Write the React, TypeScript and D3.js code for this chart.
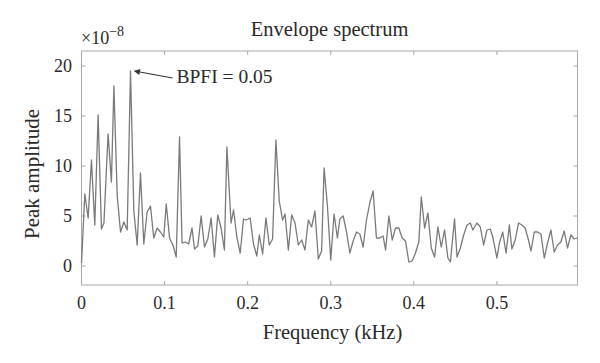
// Envelope spectrum: peak amplitude vs frequency, with BPFI annotation
import * as d3 from 'd3'

// frequency (kHz)
const freq = [
  0.000, 0.004, 0.008, 0.012, 0.016, 0.020, 0.024, 0.027, 0.032, 0.036,
  0.039, 0.043, 0.047, 0.051, 0.055, 0.059, 0.063, 0.067, 0.071, 0.075,
  0.079, 0.083, 0.087, 0.091, 0.095, 0.099, 0.102, 0.106, 0.110, 0.114,
  0.118, 0.121, 0.125, 0.129, 0.133, 0.136, 0.140, 0.144, 0.148, 0.152,
  0.156, 0.160, 0.164, 0.168, 0.172, 0.175, 0.180, 0.183, 0.187, 0.191,
  0.195, 0.198, 0.203, 0.207, 0.211, 0.214, 0.218, 0.222, 0.226, 0.230,
  0.234, 0.238, 0.242, 0.245, 0.249, 0.253, 0.257, 0.261, 0.265, 0.269,
  0.273, 0.277, 0.281, 0.285, 0.289, 0.292, 0.296, 0.300, 0.304, 0.308,
  0.311, 0.315, 0.319, 0.323, 0.327, 0.331, 0.335, 0.339, 0.343, 0.347,
  0.351, 0.355, 0.359, 0.363, 0.366, 0.370, 0.374, 0.378, 0.382, 0.386,
  0.390, 0.394, 0.398, 0.402, 0.406, 0.409, 0.413, 0.417, 0.421, 0.425,
  0.429, 0.433, 0.437, 0.441, 0.444, 0.449, 0.452, 0.456, 0.460, 0.464,
  0.468, 0.471, 0.476, 0.480, 0.484, 0.488, 0.492, 0.495, 0.500, 0.503,
  0.507, 0.511, 0.515, 0.518, 0.522, 0.526, 0.530, 0.534, 0.538, 0.541,
  0.545, 0.549, 0.553, 0.557, 0.561, 0.565, 0.569, 0.573, 0.577, 0.581,
  0.585, 0.589, 0.593, 0.597,
]

// peak amplitude (x 1e-8)
const amplitude = [
  0.3, 7.2, 4.8, 10.6, 4.1, 15.1, 3.7, 4.3, 13.2, 8.4,
  18.0, 7.0, 3.4, 4.4, 3.6, 19.5, 5.5, 2.1, 9.3, 2.2,
  5.4, 6.0, 2.8, 3.8, 3.4, 2.9, 6.2, 2.8, 2.1, 0.9,
  12.9, 2.3, 2.4, 2.2, 3.8, 1.7, 2.0, 5.0, 1.9, 2.7,
  4.8, 0.9, 5.1, 3.8, 1.6, 11.9, 4.3, 5.6, 2.9, 1.3,
  4.7, 4.6, 4.8, 2.2, 1.0, 3.1, 1.2, 4.8, 2.1, 2.7,
  12.6, 6.5, 4.6, 5.2, 1.6, 5.1, 4.3, 2.1, 2.6, 1.6,
  4.6, 3.9, 5.5, 0.7, 1.5, 9.8, 6.0, 0.6, 5.2, 2.8,
  4.7, 5.0, 3.4, 1.3, 2.5, 3.4, 3.2, 1.9, 4.6, 6.3,
  7.5, 2.8, 2.8, 3.0, 1.6, 5.0, 2.6, 3.8, 3.8, 2.8,
  2.5, 0.4, 0.5, 1.3, 2.4, 6.9, 3.8, 5.3, 1.8, 0.9,
  3.9, 1.9, 3.6, 0.8, 0.4, 4.7, 0.9, 1.8, 3.1, 4.1,
  4.3, 3.6, 4.3, 3.9, 2.1, 3.6, 3.7, 2.9, 0.8, 2.3,
  3.4, 1.3, 4.1, 1.7, 2.6, 4.3, 4.1, 3.8, 2.6, 1.5,
  3.4, 3.4, 3.2, 0.8, 2.3, 3.6, 1.4, 2.1, 2.4, 3.5,
  1.8, 3.1, 2.7, 2.8,
]

const xTicks = [0, 0.1, 0.2, 0.3, 0.4, 0.5]
const yTicks = [0, 5, 10, 15, 20]

const bpfiIndex = 15
const annotation = 'BPFI = 0.05'

const W = 600
const H = 363
const m = { left: 81.5, right: 577.5, top: 51, bottom: 285 }
const font = '"Liberation Serif", "Times New Roman", serif'
const axisColor = '#a8a8a8'
const textColor = '#2a2a2a'

export default function App() {
  const x = d3.scaleLinear().domain([0, 0.597]).range([m.left, m.right])
  const y = d3.scaleLinear().domain([-1.9, 21.5]).range([m.bottom, m.top])

  const line = d3.line<number>()
    .x((_, i) => x(freq[i]))
    .y(d => y(d))

  const px = x(freq[bpfiIndex])
  const py = y(amplitude[bpfiIndex])

  return (
    <svg width={W} height={H} style={{ position: 'absolute', left: 0, top: 0, background: '#fff' }}>
      <defs>
        <marker id="arr" viewBox="0 0 10 10" refX="9" refY="5" markerWidth="7" markerHeight="5" orient="auto">
          <path d="M0,0 L10,5 L0,10 z" fill="#333" />
        </marker>
      </defs>

      {/* plot box */}
      <rect x={m.left} y={m.top} width={m.right - m.left} height={m.bottom - m.top}
        fill="none" stroke={axisColor} strokeWidth={1} />

      {/* ticks */}
      {xTicks.map(t => (
        <g key={'x' + t}>
          <line x1={x(t)} x2={x(t)} y1={m.bottom} y2={m.bottom - 4} stroke={axisColor} />
          <line x1={x(t)} x2={x(t)} y1={m.top} y2={m.top + 4} stroke={axisColor} />
          <text x={x(t)} y={308.5} textAnchor="middle" fontFamily={font} fontSize={18} fill={textColor}>
            {t === 0 ? '0' : t.toFixed(1)}
          </text>
        </g>
      ))}
      {yTicks.map(t => (
        <g key={'y' + t}>
          <line x1={m.left} x2={m.left + 4} y1={y(t)} y2={y(t)} stroke={axisColor} />
          <line x1={m.right} x2={m.right - 4} y1={y(t)} y2={y(t)} stroke={axisColor} />
          <text x={72} y={y(t)} dy="0.35em" textAnchor="end" fontFamily={font} fontSize={18} fill={textColor}>
            {t}
          </text>
        </g>
      ))}

      {/* spectrum */}
      <path d={line(amplitude) || ''} fill="none" stroke="#7a7a7a" strokeWidth={1.3} strokeLinejoin="round" />

      {/* annotation */}
      <line x1={px + 42} y1={py + 7} x2={px + 4} y2={py} stroke="#333" strokeWidth={1.2} markerEnd="url(#arr)" />
      <text x={px + 46} y={py + 12} fontFamily={font} fontSize={19.5} fill={textColor}>{annotation}</text>

      {/* exponent */}
      <text x={81} y={44} fontFamily={font} fontSize={18} fill={textColor}>
        ×10<tspan dy={-8} fontSize={14}>−8</tspan>
      </text>

      {/* titles */}
      <text x={(m.left + m.right) / 2} y={36} textAnchor="middle" fontFamily={font} fontSize={20.5} fill={textColor}>
        Envelope spectrum
      </text>
      <text x={(m.left + m.right) / 2 + 3} y={339} textAnchor="middle" fontFamily={font} fontSize={20.5} fill={textColor}>
        Frequency (kHz)
      </text>
      <text transform={`translate(39, ${(m.top + m.bottom) / 2 + 6}) rotate(-90)`} textAnchor="middle"
        fontFamily={font} fontSize={21} fill={textColor}>
        Peak amplitude
      </text>
    </svg>
  )
}
